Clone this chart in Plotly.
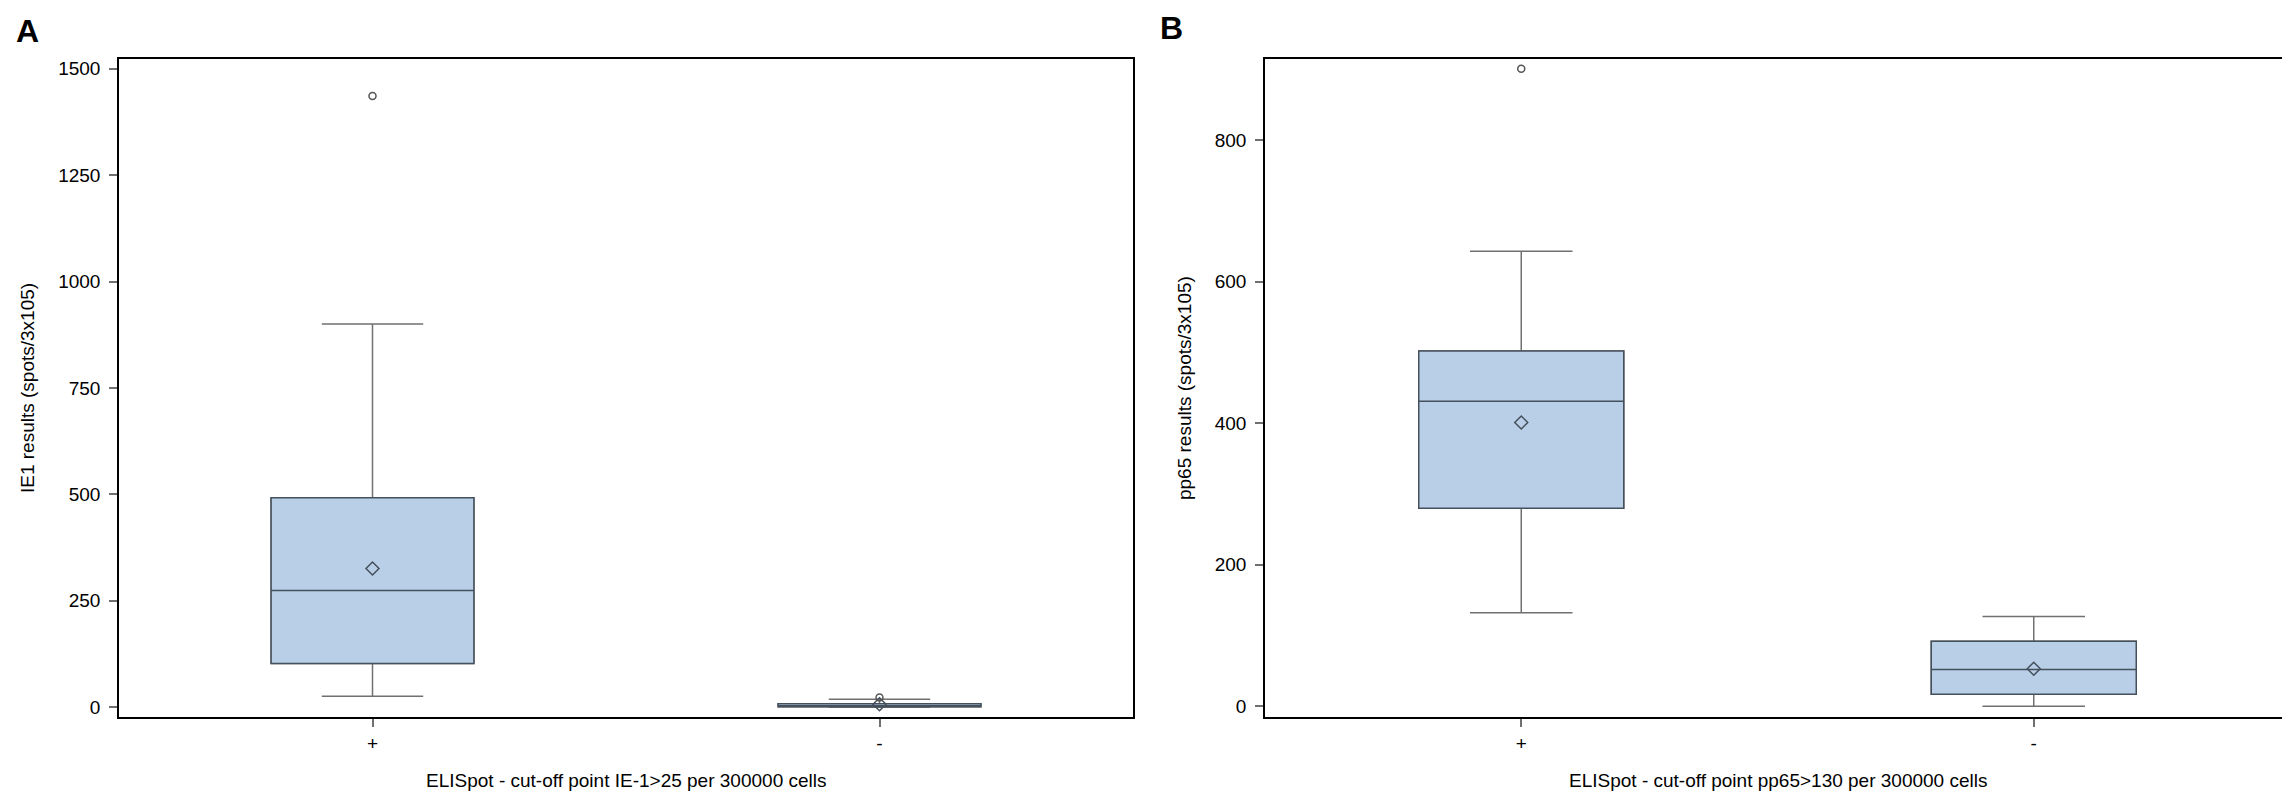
import plotly.graph_objects as go

# ---- data ----
categories = ["+", "-"]

# Panel A: IE1
a_q1 = [103, 1]
a_median = [274, 3]
a_q3 = [492, 8]
a_lower = [26, 0]
a_upper = [900, 19]
a_mean = [326, 7]
a_outlier_x = ["+", "-"]
a_outlier_y = [1436, 23]

# Panel B: pp65
b_q1 = [280, 17]
b_median = [431, 52]
b_q3 = [502, 92]
b_lower = [132, 0]
b_upper = [643, 127]
b_mean = [401, 53]
b_outlier_x = ["+"]
b_outlier_y = [901]

a_yticks = [0, 250, 500, 750, 1000, 1250, 1500]
b_yticks = [0, 200, 400, 600, 800]

a_ylabel = "IE1 results (spots/3x105)"
b_ylabel = "pp65 results (spots/3x105)"
a_xlabel = "ELISpot - cut-off point IE-1>25 per 300000 cells"
b_xlabel = "ELISpot - cut-off point pp65>130 per 300000 cells"

FONT = "Liberation Sans, Arial, sans-serif"
FILL = "#B9CFE7"
WHISK = "#707070"
DARK = "#44505C"

W, H = 2290, 791

fig = go.Figure()


def add_panel(xa, ya, q1, med, q3, lo, up, mean, ox, oy):
    # outer box with whiskers (gray)
    fig.add_trace(go.Box(
        x=categories, q1=q1, median=med, q3=q3, lowerfence=lo, upperfence=up,
        width=0.4, whiskerwidth=0.5, fillcolor=FILL,
        line=dict(color=WHISK, width=1.5), boxpoints=False,
        xaxis=xa, yaxis=ya, showlegend=False, hoverinfo="skip"))
    # inner box outline + median (dark)
    fig.add_trace(go.Box(
        x=categories, q1=q1, median=med, q3=q3, lowerfence=q1, upperfence=q3,
        width=0.4, whiskerwidth=0, fillcolor=FILL,
        line=dict(color=DARK, width=1.5), boxpoints=False,
        xaxis=xa, yaxis=ya, showlegend=False, hoverinfo="skip"))
    fig.add_trace(go.Scatter(
        x=categories, y=mean, mode="markers",
        marker=dict(symbol="diamond-open", size=10, color=DARK, line=dict(width=1.5)),
        xaxis=xa, yaxis=ya, showlegend=False))
    fig.add_trace(go.Scatter(
        x=ox, y=oy, mode="markers",
        marker=dict(symbol="circle-open", size=7, color="#555555", line=dict(width=1.5)),
        xaxis=xa, yaxis=ya, showlegend=False))


add_panel("x", "y", a_q1, a_median, a_q3, a_lower, a_upper, a_mean, a_outlier_x, a_outlier_y)
add_panel("x2", "y2", b_q1, b_median, b_q3, b_lower, b_upper, b_mean, b_outlier_x, b_outlier_y)

y_top = 1 - 50 / H
y_bot = 1 - 710 / H

axis_common = dict(showline=True, linecolor="black", linewidth=1.5, mirror=True,
                   ticks="outside", ticklen=8, tickcolor=WHISK, tickwidth=1.5,
                   showgrid=False, zeroline=False,
                   tickfont=dict(family=FONT, size=19, color="black"))

fig.update_layout(
    width=W, height=H,
    margin=dict(l=0, r=0, t=0, b=0),
    paper_bgcolor="white", plot_bgcolor="white",
    boxmode="overlay",
    xaxis=dict(domain=[111 / W, 1125 / W], anchor="y", type="category",
               categoryorder="array", categoryarray=categories, range=[-0.5, 1.5],
               **axis_common),
    yaxis=dict(domain=[y_bot, y_top], anchor="x", range=[-23.4, 1523],
               tickvals=a_yticks, ticklabelstandoff=5, **axis_common),
    xaxis2=dict(domain=[1257 / W, 2282 / W], anchor="y2", type="category",
                categoryorder="array", categoryarray=categories, range=[-0.5, 1.5],
                **axis_common),
    yaxis2=dict(domain=[y_bot, y_top], anchor="x2", range=[-15.5, 915],
                tickvals=b_yticks, ticklabelstandoff=5, **axis_common),
)

ann_font = dict(family=FONT, size=19, color="black")
annotations = [
    dict(text=a_xlabel, x=(111 + 1125) / 2 / W, y=1 - 773 / H, xref="paper", yref="paper",
         showarrow=False, font=ann_font, xanchor="center", yanchor="middle"),
    dict(text=b_xlabel, x=(1257 + 2282) / 2 / W, y=1 - 773 / H, xref="paper", yref="paper",
         showarrow=False, font=ann_font, xanchor="center", yanchor="middle"),
    dict(text=a_ylabel, x=19 / W, y=1 - 380 / H, xref="paper", yref="paper", textangle=-90,
         showarrow=False, font=ann_font, xanchor="center", yanchor="middle"),
    dict(text=b_ylabel, x=1176 / W, y=1 - 380 / H, xref="paper", yref="paper", textangle=-90,
         showarrow=False, font=ann_font, xanchor="center", yanchor="middle"),
    dict(text="<b>A</b>", x=6 / W, y=1 - 22 / H, xref="paper", yref="paper",
         showarrow=False, font=dict(family=FONT, size=32, color="black"),
         xanchor="left", yanchor="middle"),
    dict(text="<b>B</b>", x=1150 / W, y=1 - 19 / H, xref="paper", yref="paper",
         showarrow=False, font=dict(family=FONT, size=32, color="black"),
         xanchor="left", yanchor="middle"),
]
fig.update_layout(annotations=annotations)

fig.write_html("out.html")
